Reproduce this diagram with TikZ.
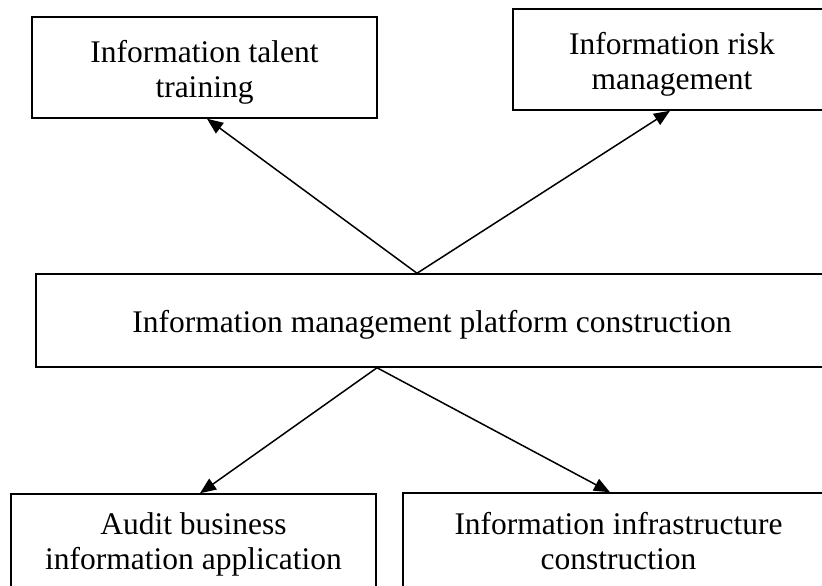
\documentclass[tikz,border=0pt]{standalone}
\usepackage{fontspec}
\setmainfont{Liberation Serif}
\usetikzlibrary{arrows.meta}

% raises the top of a first line so the text block sits a little low in its box
\newcommand\toppad{\rule{0pt}{31pt}}

\begin{document}
\begin{tikzpicture}[x=1pt, y=-1pt,
  box/.style={draw, line width=1.5pt, inner sep=0pt, align=center,
    font=\fontsize{31.5}{35}\selectfont},
  link/.style={line width=1.5pt, -{Triangle[length=16pt,width=13pt]}}]
  \useasboundingbox (0,0) rectangle (822,586);
  \clip (0,0) rectangle (822,586);

  % upper row
  \node[box, minimum width=345pt, minimum height=101pt] (talent) at (204.5,67.5)
    {\toppad Information talent\\training};
  \node[box, minimum width=318pt, minimum height=101pt] (risk) at (672,59.5)
    {\toppad Information risk\\management};

  % central platform
  \node[box, minimum width=792pt, minimum height=93pt] (platform) at (432,320.5)
    {\toppad Information management platform construction};

  % lower row
  \node[box, minimum width=365pt, minimum height=100pt] (audit) at (193.5,544)
    {Audit business\\information application};
  \node[box, minimum width=431pt, minimum height=96pt] (infra) at (618.5,541)
    {Information infrastructure\\construction};

  % connectors
  \draw[link] ([xshift=-15pt]platform.north) -- ([xshift=2.5pt]talent.south);
  \draw[link] ([xshift=-15pt]platform.north) -- ([xshift=-2pt]risk.south);
  \draw[link] ([xshift=-55pt]platform.south) -- ([xshift=6.5pt]audit.north);
  \draw[link] ([xshift=-55pt]platform.south) -- ([xshift=-8.5pt]infra.north);
\end{tikzpicture}
\end{document}
